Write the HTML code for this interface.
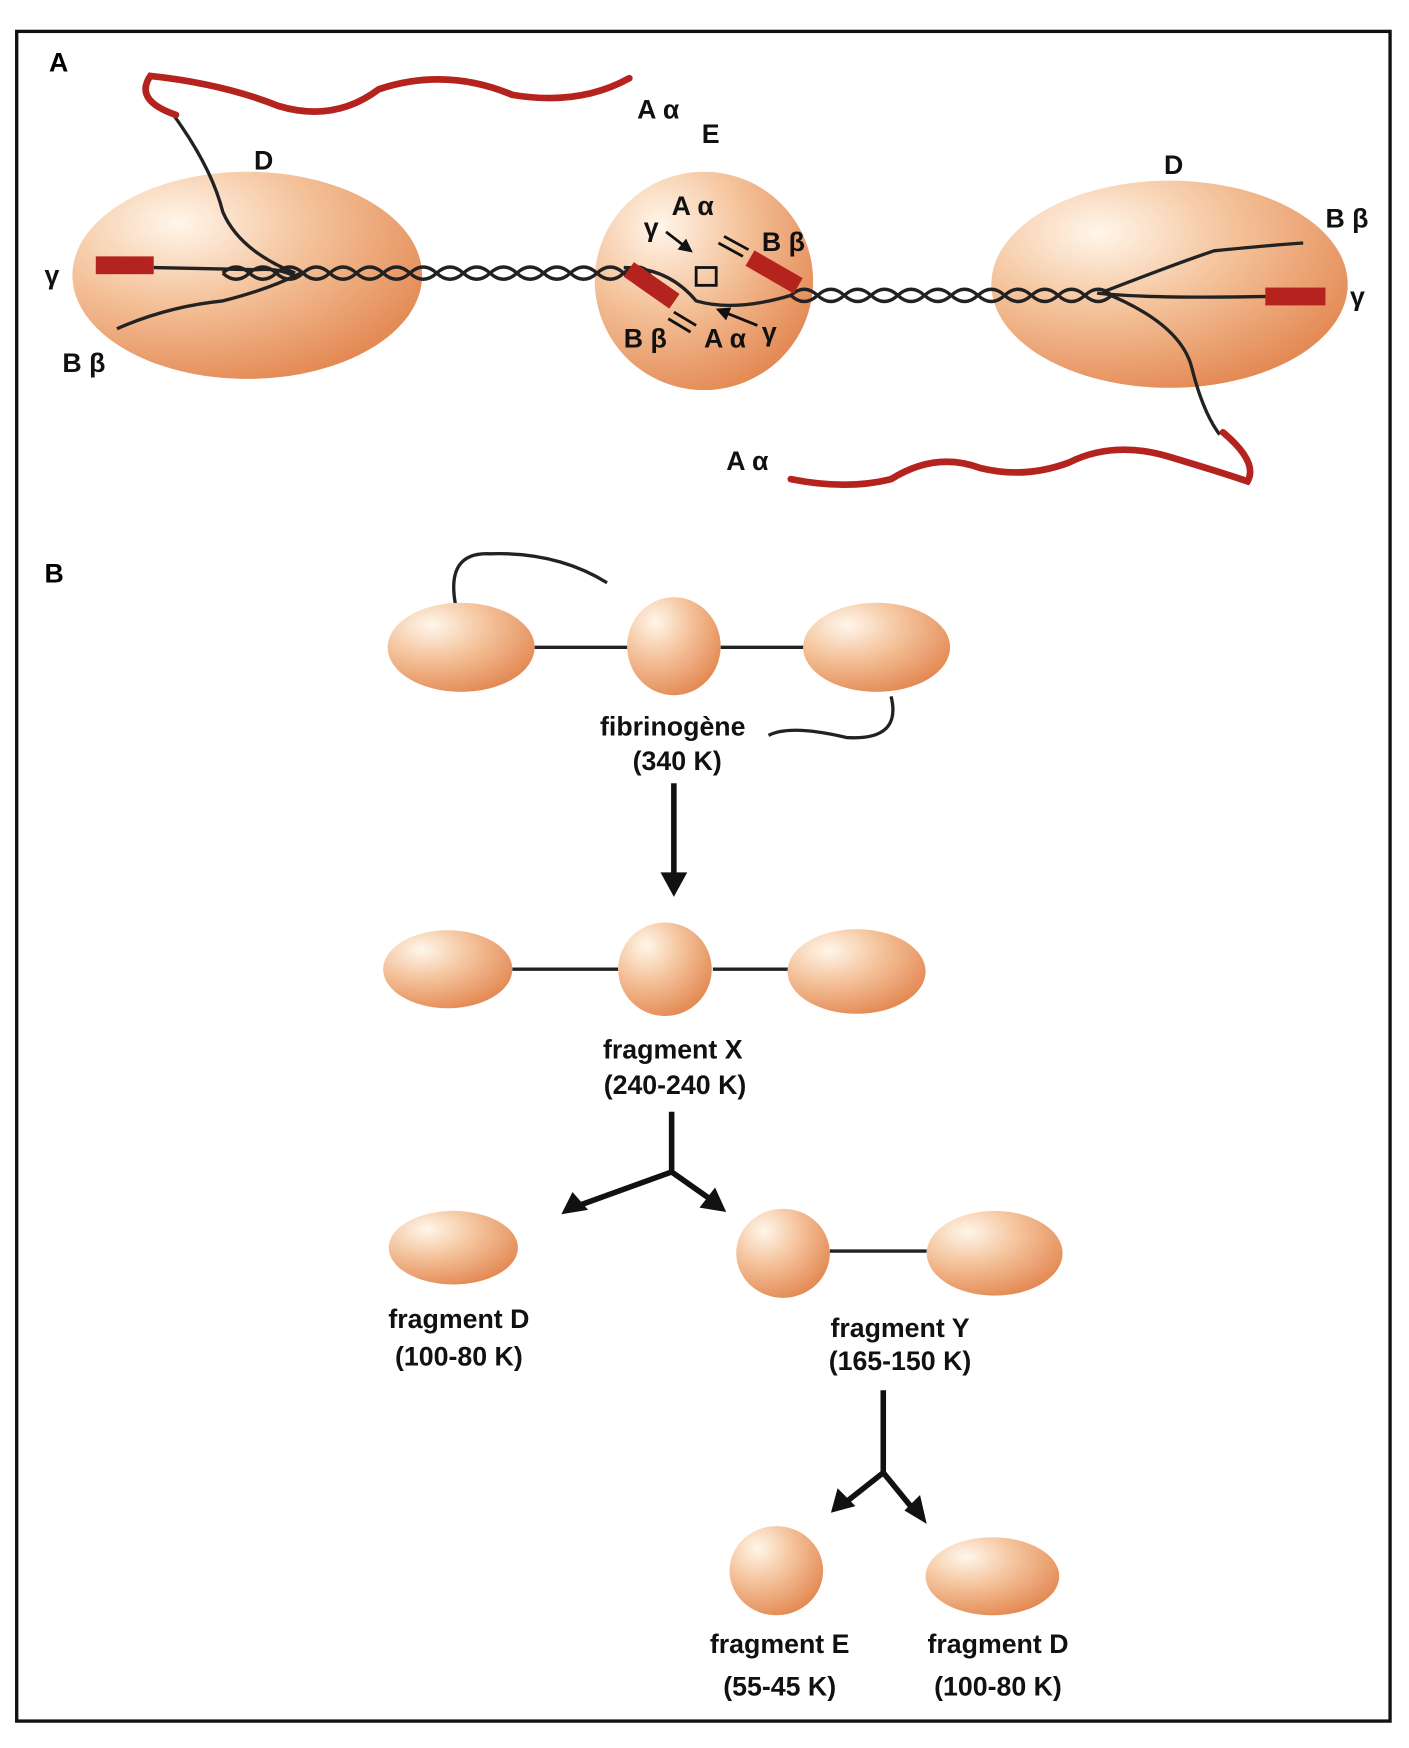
<!DOCTYPE html>
<html><head><meta charset="utf-8"><style>html,body{margin:0;padding:0;background:#fff}svg{display:block}</style></head><body>
<svg width="1409" height="1748" viewBox="0 0 1265 1569" xmlns="http://www.w3.org/2000/svg" font-family="Liberation Sans, DejaVu Sans, sans-serif" font-weight="bold">
<defs>
<radialGradient id="g" cx="0.3" cy="0.25" r="0.85">
<stop offset="0" stop-color="#fff6ea"/><stop offset="0.45" stop-color="#f4c29a"/><stop offset="1" stop-color="#e2844d"/>
</radialGradient>
<marker id="ah" viewBox="0 0 10 10" refX="8" refY="5" markerWidth="5" markerHeight="5" orient="auto"><path d="M0,0L10,5L0,10z" fill="#111"/></marker>
</defs>
<rect width="1265" height="1569" fill="#fff"/>
<rect x="15" y="28" width="1233" height="1517" fill="none" stroke="#111" stroke-width="3"/>
<text x="44" y="64" font-size="24">A</text>
<text x="40" y="523" font-size="24">B</text>
<ellipse cx="222" cy="247" rx="157" ry="93" fill="url(#g)"/>
<circle cx="632" cy="252" r="98" fill="url(#g)"/>
<ellipse cx="1050" cy="255" rx="160" ry="93" fill="url(#g)"/>
<g fill="none" stroke="#222" stroke-width="3">
<path d="M200,245 q12,-11 24,0 t24,0 t24,0 t24,0 t24,0 t24,0 t24,0 t24,0 t24,0 t24,0 t24,0 t24,0 t24,0 t24,0 t24,0 t24,0"/>
<path d="M200,245 q12,11 24,0 t24,0 t24,0 t24,0 t24,0 t24,0 t24,0 t24,0 t24,0 t24,0 t24,0 t24,0 t24,0 t24,0 t24,0 t24,0"/>
<path d="M710,265 q12,-11 24,0 t24,0 t24,0 t24,0 t24,0 t24,0 t24,0 t24,0 t24,0 t24,0 t24,0 t24,0"/>
<path d="M710,265 q12,11 24,0 t24,0 t24,0 t24,0 t24,0 t24,0 t24,0 t24,0 t24,0 t24,0 t24,0 t24,0"/>
<path d="M138,240 L230,242 Q250,240 265,248"/>
<path d="M105,295 Q150,275 200,270 Q240,260 270,245"/>
<path d="M155,102 Q190,150 200,190 Q215,225 265,245"/>
<path d="M560,240 Q600,240 625,270 Q660,280 710,265"/>
<path d="M985,263 Q1030,268 1140,266"/>
<path d="M990,262 Q1060,235 1090,225 Q1140,220 1170,218"/>
<path d="M990,262 Q1060,290 1070,330 Q1080,370 1095,390"/>
<path d="M409,543 Q400,495 440,497 Q500,495 545,523"/>
<path d="M800,625 Q810,665 760,662 Q710,650 690,660"/>
</g>
<g fill="none" stroke="#b5231f" stroke-width="6" stroke-linecap="round">
<path d="M158,103 Q120,90 135,68 Q200,75 250,95 Q300,110 340,80 Q400,60 460,85 Q520,95 565,70"/>
<path d="M710,430 Q760,440 800,430 Q840,405 880,420 Q920,430 960,415 Q1000,395 1050,410 Q1100,425 1120,432 Q1130,415 1098,388"/>
</g>
<g fill="#b5231f">
<rect x="86" y="230" width="52" height="16"/>
<rect x="1136" y="258" width="54" height="16"/>
<rect x="560" y="248" width="50" height="16" transform="rotate(35 585 256)"/>
<rect x="670" y="236" width="50" height="16" transform="rotate(30 695 244)"/>
</g>
<g stroke="#111" stroke-width="2.5" fill="none">
<path d="M605,280 l20,12 M600,286 l20,12"/>
<path d="M650,212 l22,12 M645,218 l22,12"/>
<rect x="625" y="240" width="18" height="16"/>
<path d="M598,208 L620,225" marker-end="url(#ah)"/>
<path d="M680,292 L645,278" marker-end="url(#ah)"/>
</g>
<g font-size="24" fill="#111">
<text x="572" y="106">A α</text>
<text x="630" y="128">E</text>
<text x="228" y="152">D</text>
<text x="1045" y="156">D</text>
<text x="40" y="255">γ</text>
<text x="56" y="334">B β</text>
<text x="1190" y="204">B β</text>
<text x="1212" y="274">γ</text>
<text x="603" y="193">A α</text>
<text x="578" y="212">γ</text>
<text x="684" y="225">B β</text>
<text x="560" y="312">B β</text>
<text x="632" y="312">A α</text>
<text x="684" y="306">γ</text>
<text x="652" y="422">A α</text>
</g>
<g stroke="#222" stroke-width="3">
<line x1="480" y1="581" x2="565" y2="581"/><line x1="647" y1="581" x2="722" y2="581"/>
<line x1="460" y1="870" x2="555" y2="870"/><line x1="640" y1="870" x2="708" y2="870"/>
<line x1="745" y1="1123" x2="832" y2="1123"/>
</g>
<ellipse cx="414" cy="581" rx="66" ry="40" fill="url(#g)"/>
<ellipse cx="605" cy="580" rx="42" ry="44" fill="url(#g)"/>
<ellipse cx="787" cy="581" rx="66" ry="40" fill="url(#g)"/>
<ellipse cx="402" cy="870" rx="58" ry="35" fill="url(#g)"/>
<ellipse cx="597" cy="870" rx="42" ry="42" fill="url(#g)"/>
<ellipse cx="769" cy="872" rx="62" ry="38" fill="url(#g)"/>
<ellipse cx="407" cy="1120" rx="58" ry="33" fill="url(#g)"/>
<ellipse cx="703" cy="1125" rx="42" ry="40" fill="url(#g)"/>
<ellipse cx="893" cy="1125" rx="61" ry="38" fill="url(#g)"/>
<ellipse cx="697" cy="1410" rx="42" ry="40" fill="url(#g)"/>
<ellipse cx="891" cy="1415" rx="60" ry="35" fill="url(#g)"/>
<g stroke="#111" stroke-width="5" fill="none">
<line x1="605" y1="703" x2="605" y2="785"/>
<path d="M603,998 V1052 L520,1082 M603,1052 L640,1078"/>
<path d="M793,1248 V1322 L760,1348 M793,1322 L820,1355"/>
</g>
<g fill="#111">
<path d="M593,783 L617,783 L605,805z"/>
<path d="M504,1090 L514,1070 L528,1086z"/>
<path d="M652,1088 L628,1084 L642,1066z"/>
<path d="M746,1358 L752,1336 L768,1352z"/>
<path d="M832,1368 L812,1356 L826,1342z"/>
</g>
<g font-size="24" fill="#111" text-anchor="middle">
<text x="604" y="660">fibrinogène</text><text x="608" y="691">(340 K)</text>
<text x="604" y="950">fragment X</text><text x="606" y="982">(240-240 K)</text>
<text x="412" y="1192">fragment D</text><text x="412" y="1226">(100-80 K)</text>
<text x="808" y="1200">fragment Y</text><text x="808" y="1230">(165-150 K)</text>
<text x="700" y="1484">fragment E</text><text x="700" y="1522">(55-45 K)</text>
<text x="896" y="1484">fragment D</text><text x="896" y="1522">(100-80 K)</text>
</g>
</svg>
</body></html>
